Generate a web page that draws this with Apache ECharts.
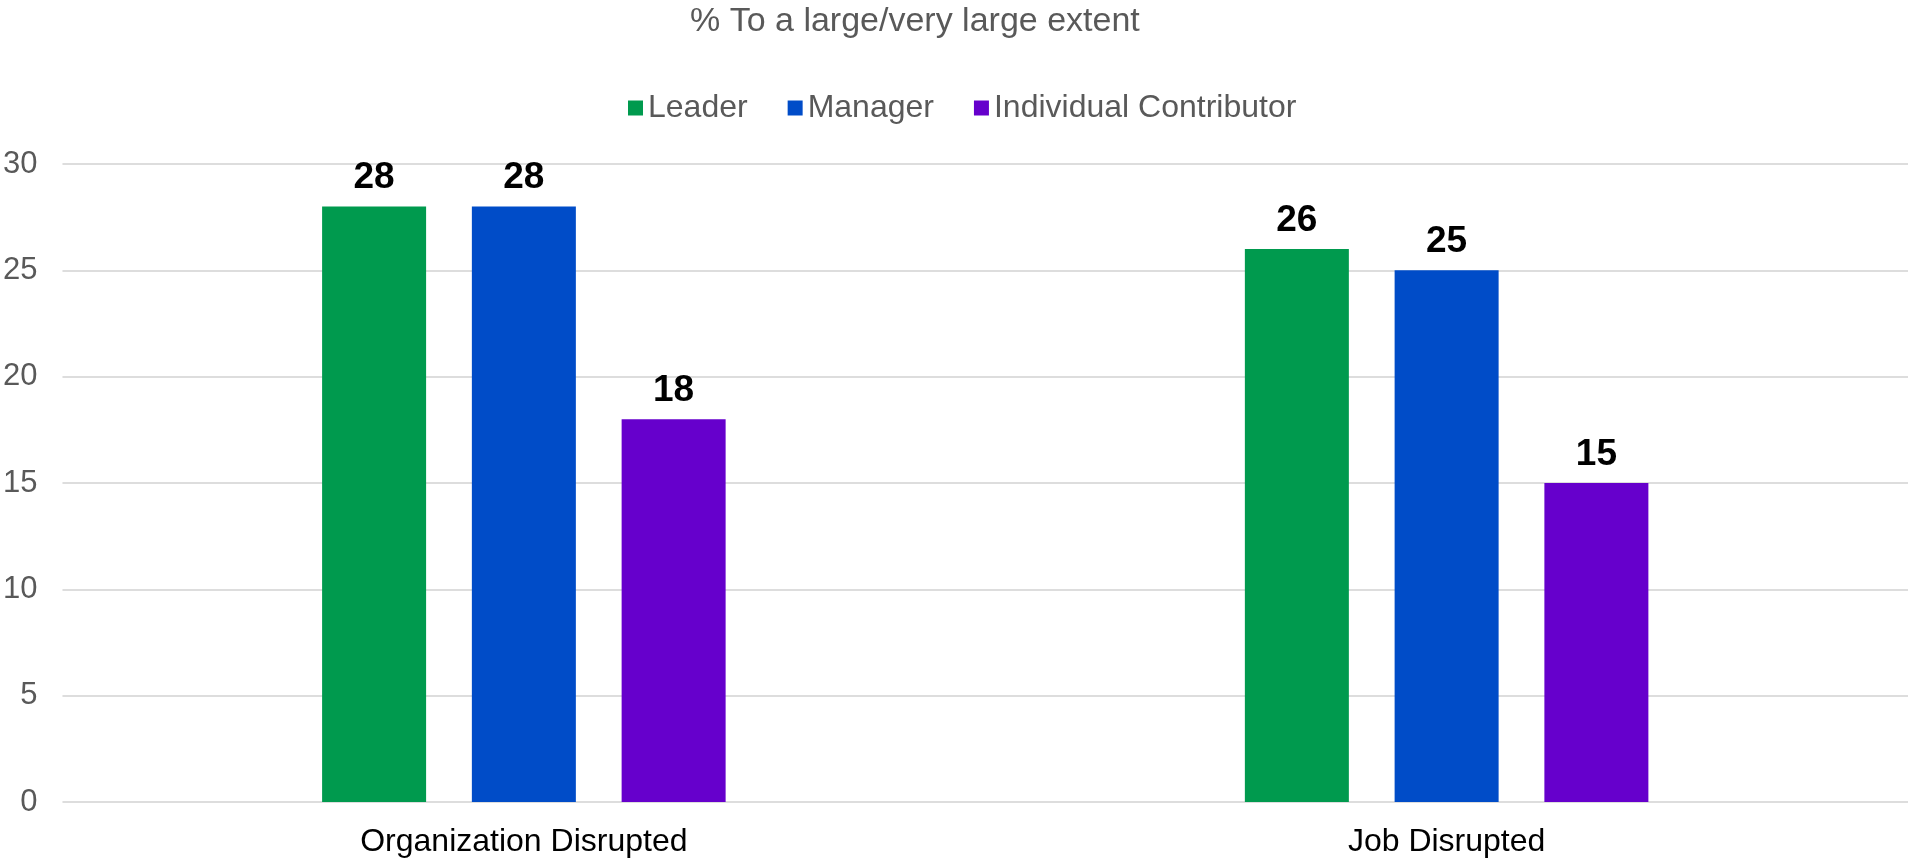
<!DOCTYPE html>
<html>
<head>
<meta charset="utf-8">
<script src="https://cdn.jsdelivr.net/npm/echarts@6/dist/echarts.min.js"></script>
<style>
html,body{margin:0;padding:0;background:#fff;}
#chart{width:1908px;height:858px;}
</style>
</head>
<body>
<div id="chart"></div>
<script>
const categories = ['Organization Disrupted', 'Job Disrupted'];
const seriesNames = ['Leader', 'Manager', 'Individual Contributor'];
const leader = [28, 26];
const manager = [28, 25];
const individualContributor = [18, 15];
const yTicks = [0, 5, 10, 15, 20, 25, 30];
const titleText = '% To a large/very large extent';

const colors = ['#009A4E', '#004CC8', '#6600CC'];
const font = '"Liberation Sans", Arial, sans-serif';
const values = [leader, manager, individualContributor];

const chart = echarts.init(document.getElementById('chart'));
chart.setOption({
  animation: false,
  backgroundColor: '#ffffff',
  title: {
    text: titleText,
    left: 685,
    top: 0,
    textStyle: { fontFamily: font, fontSize: 34, fontWeight: 'normal', color: '#595959' }
  },
  legend: {
    data: seriesNames,
    left: 623,
    top: 87,
    itemWidth: 15,
    itemHeight: 15,
    itemGap: 40,
    icon: 'rect',
    textStyle: { fontFamily: font, fontSize: 32, color: '#595959' }
  },
  grid: { left: 58, right: 0, top: 164, bottom: 56, containLabel: false },
  xAxis: {
    type: 'category',
    data: categories,
    axisLine: { show: false },
    axisTick: { show: false },
    axisLabel: { fontFamily: font, fontSize: 32, color: '#000000', margin: 24 }
  },
  yAxis: {
    type: 'value',
    min: yTicks[0],
    max: yTicks[yTicks.length - 1],
    interval: yTicks[1] - yTicks[0],
    axisLine: { show: false },
    axisTick: { show: false },
    axisLabel: { fontFamily: font, fontSize: 31, color: '#595959', margin: 25 },
    splitLine: { lineStyle: { color: '#DDDDDD', width: 2 } }
  },
  series: seriesNames.map((name, i) => ({
    name: name,
    type: 'bar',
    data: values[i],
    barWidth: 104,
    barGap: '44%',
    itemStyle: { color: colors[i] },
    label: {
      show: true,
      position: 'top',
      distance: 10,
      fontFamily: font,
      fontSize: 37,
      fontWeight: 'bold',
      color: '#000000'
    }
  }))
});
</script>
</body>
</html>
